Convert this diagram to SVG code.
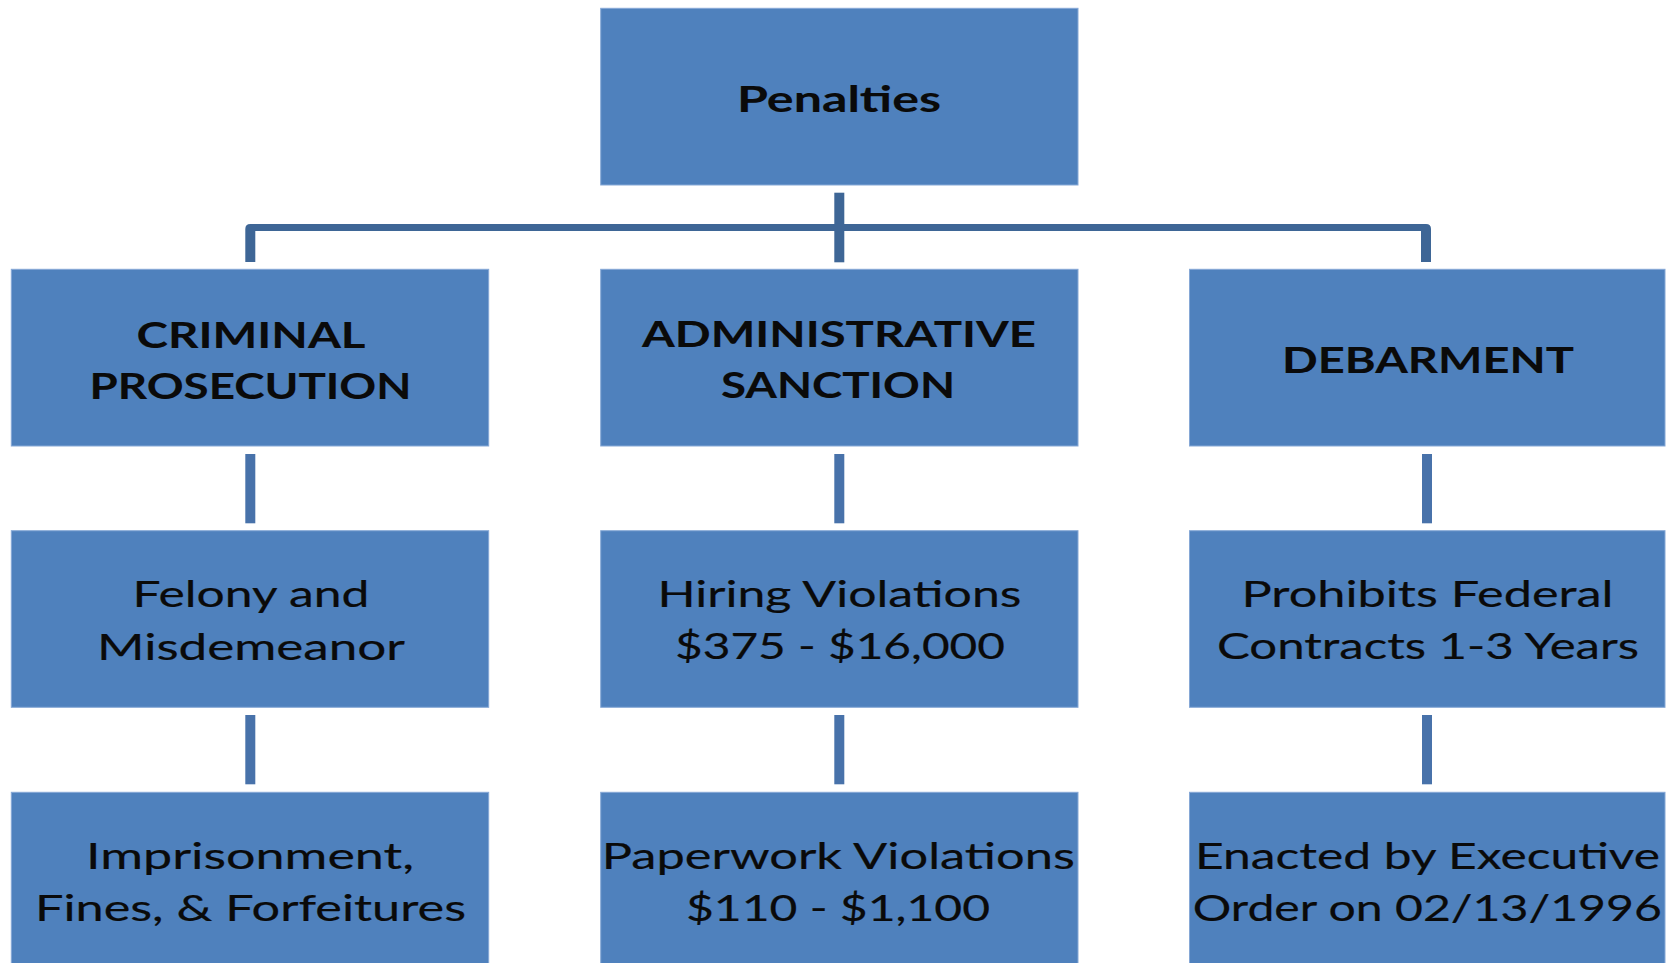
<svg xmlns="http://www.w3.org/2000/svg" width="1673" height="963" viewBox="0 0 1673 963">
  <style>
    .box { fill: #4f81bd; stroke: #86a8d6; stroke-width: 1; }
    .lbl { font-family: Lato, "Open Sans", "Liberation Sans", sans-serif; font-size: 36px; fill: #0a0a0a; stroke: #0a0a0a; stroke-width: 0.2; text-anchor: middle; }
    .bold { font-weight: 700; stroke-width: 0.1; }
    .trunk { fill: #3e6696; }
    .stub { fill: #4872aa; }
  </style>
  <rect width="1673" height="963" fill="#ffffff"/>

  <!-- connectors -->
  <g id="connectors">
    <!-- tree bus from the root to the three categories -->
    <rect class="trunk" x="834.3" y="192.7" width="10" height="69.6"/>
    <path class="trunk" d="M245.3 262 V229 Q245.3 224 250.3 224 H1426 Q1431 224 1431 229 V262 H1421 V231 H255.3 V262 Z"/>
    <!-- vertical links inside each column -->
    <rect class="stub" x="245.3" y="454" width="10" height="69.3"/>
    <rect class="stub" x="245.3" y="715" width="10" height="69.3"/>
    <rect class="stub" x="834.3" y="454" width="10" height="69.3"/>
    <rect class="stub" x="834.3" y="715" width="10" height="69.3"/>
    <rect class="stub" x="1422" y="454" width="10" height="69.3"/>
    <rect class="stub" x="1422" y="715" width="10" height="69.3"/>
  </g>

  <g id="penalties">
    <rect class="box" x="600.7" y="8.3" width="477.3" height="176.7"/>
    <text class="lbl bold" x="839" y="111.7" textLength="204" lengthAdjust="spacingAndGlyphs">Penalties</text>
  </g>

  <g id="criminal-prosecution">
    <rect class="box" x="11.3" y="269.3" width="477.4" height="176.7"/>
    <text class="lbl bold" x="251" y="348.3" textLength="229" lengthAdjust="spacingAndGlyphs">CRIMINAL</text>
    <text class="lbl bold" x="250.5" y="399.3" textLength="322" lengthAdjust="spacingAndGlyphs">PROSECUTION</text>
  </g>

  <g id="administrative-sanction">
    <rect class="box" x="600.7" y="269.3" width="477.3" height="176.7"/>
    <text class="lbl bold" x="839" y="347.3" textLength="394" lengthAdjust="spacingAndGlyphs">ADMINISTRATIVE</text>
    <text class="lbl bold" x="838" y="397.7" textLength="234" lengthAdjust="spacingAndGlyphs">SANCTION</text>
  </g>

  <g id="debarment">
    <rect class="box" x="1189.5" y="269.3" width="475.5" height="176.7"/>
    <text class="lbl bold" x="1428" y="373.3" textLength="292" lengthAdjust="spacingAndGlyphs">DEBARMENT</text>
  </g>

  <g id="felony-misdemeanor">
    <rect class="box" x="11.3" y="530.7" width="477.4" height="176.6"/>
    <text class="lbl" x="251" y="607.3" textLength="237" lengthAdjust="spacingAndGlyphs">Felony and</text>
    <text class="lbl" x="251" y="660" textLength="308" lengthAdjust="spacingAndGlyphs">Misdemeanor</text>
  </g>

  <g id="hiring-violations">
    <rect class="box" x="600.7" y="530.7" width="477.3" height="176.6"/>
    <text class="lbl" x="839.5" y="607" textLength="364" lengthAdjust="spacingAndGlyphs">Hiring Violations</text>
    <text class="lbl" x="840" y="659" textLength="330" lengthAdjust="spacingAndGlyphs">$375 - $16,000</text>
  </g>

  <g id="prohibits-contracts">
    <rect class="box" x="1189.5" y="530.7" width="475.5" height="176.6"/>
    <text class="lbl" x="1427.5" y="607" textLength="372" lengthAdjust="spacingAndGlyphs">Prohibits Federal</text>
    <text class="lbl" x="1428" y="659" textLength="422" lengthAdjust="spacingAndGlyphs">Contracts 1-3 Years</text>
  </g>

  <g id="imprisonment-fines">
    <rect class="box" x="11.3" y="792.3" width="477.4" height="180"/>
    <text class="lbl" x="250" y="869.3" textLength="328" lengthAdjust="spacingAndGlyphs">Imprisonment,</text>
    <text class="lbl" x="250.5" y="920.7" textLength="431" lengthAdjust="spacingAndGlyphs">Fines, &amp; Forfeitures</text>
  </g>

  <g id="paperwork-violations">
    <rect class="box" x="600.7" y="792.3" width="477.3" height="180"/>
    <text class="lbl" x="838.3" y="868.8" textLength="473" lengthAdjust="spacingAndGlyphs">Paperwork Violations</text>
    <text class="lbl" x="838" y="920.5" textLength="304" lengthAdjust="spacingAndGlyphs">$110 - $1,100</text>
  </g>

  <g id="executive-order">
    <rect class="box" x="1189.5" y="792.3" width="475.5" height="180"/>
    <text class="lbl" x="1427.5" y="868.8" textLength="465" lengthAdjust="spacingAndGlyphs">Enacted by Executive</text>
    <text class="lbl" x="1427.3" y="920.7" textLength="469" lengthAdjust="spacingAndGlyphs">Order on 02/13/1996</text>
  </g>
</svg>
